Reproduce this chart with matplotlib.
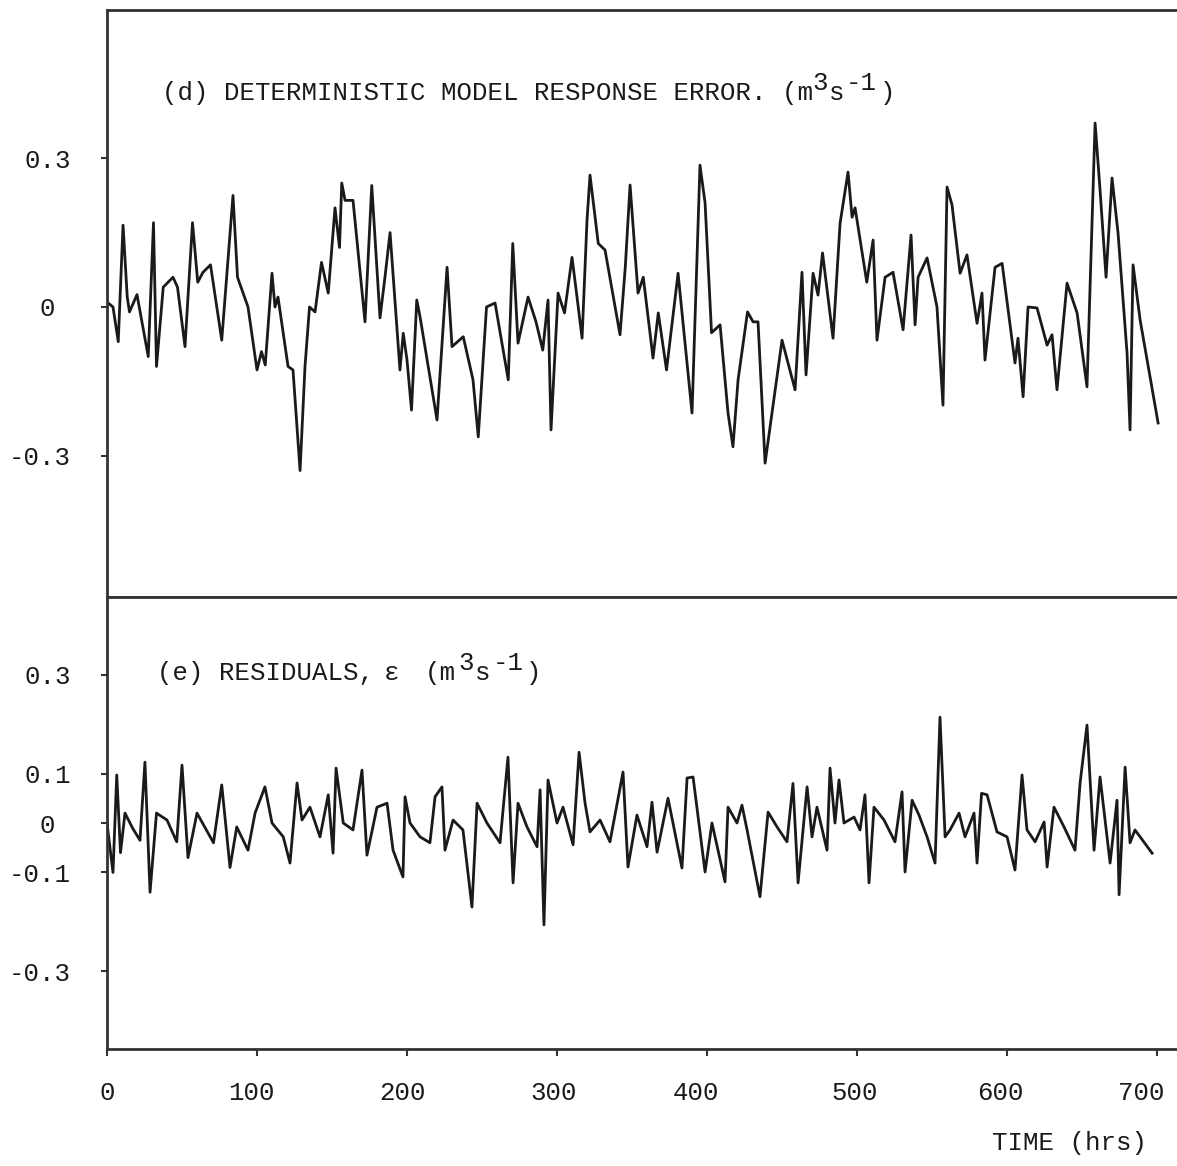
import matplotlib
matplotlib.use("Agg")
import matplotlib.pyplot as plt
import matplotlib.transforms as mtransforms

plt.rcParams['font.family'] = ['Liberation Mono', 'DejaVu Sans Mono']

# (d) deterministic model response error
t_d = [0, 4, 7.5, 10.7, 13.5, 15, 20, 27.5, 31, 33, 37.5, 44, 47, 52, 57, 60.5, 64, 69,
       76.5, 84, 87, 94, 100, 103, 105.5, 110, 112, 114, 120.7, 124, 128.7, 132, 135,
       138.7, 143, 147.5, 152, 155, 156.5, 158.7, 164, 172, 176.5, 182, 185.3, 188.7,
       195.3, 197.5, 200, 203, 206.5, 208.7, 220, 226.7, 230, 237.5, 244, 247.5, 253,
       258.7, 267.5, 270.5, 274, 280.7, 286, 290.5, 294, 296, 300.7, 305, 310, 313,
       316.7, 320, 322, 327.5, 332, 342, 345.5, 348.7, 354, 357.5, 364, 367.5, 373,
       380.7, 390, 395.3, 398.7, 403, 408.7, 414, 417.3, 420.7, 427, 430.7, 434, 438.7,
       450, 458.7, 463.3, 466, 470.7, 474, 477, 484, 488.7, 494, 496.7, 498.7, 506.5,
       510.7, 513.3, 518.7, 524, 530.7, 536, 538.7, 540.7, 546.7, 553.3, 557.3, 560,
       563.3, 568.7, 573.3, 580, 583.3, 585.3, 592, 596.7, 605.3, 607.3, 610.7, 614,
       620, 626.7, 630, 633.3, 640, 646.7, 653.3, 658.7, 662, 666, 670, 674, 680, 682,
       684, 688.7, 700.7]
v_d = [0.01, 0.0, -0.07, 0.165, 0.02, -0.01, 0.025, -0.10, 0.17, -0.12, 0.04, 0.06, 0.04,
       -0.08, 0.17, 0.05, 0.07, 0.085, -0.067, 0.225, 0.06, 0.0, -0.127, -0.09, -0.117,
       0.068, 0.0, 0.02, -0.12, -0.127, -0.33, -0.12, 0.0, -0.01, 0.09, 0.028, 0.2, 0.12,
       0.25, 0.215, 0.215, -0.03, 0.245, -0.022, 0.06, 0.15, -0.127, -0.053, -0.107,
       -0.208, 0.014, -0.02, -0.228, 0.08, -0.08, -0.06, -0.147, -0.262, 0.0, 0.008,
       -0.147, 0.128, -0.073, 0.02, -0.03, -0.087, 0.014, -0.248, 0.028, -0.012, 0.1,
       0.028, -0.063, 0.175, 0.266, 0.128, 0.115, -0.056, 0.08, 0.246, 0.028, 0.06,
       -0.103, -0.012, -0.127, 0.068, -0.214, 0.286, 0.21, -0.052, -0.036, -0.214,
       -0.282, -0.147, -0.01, -0.03, -0.03, -0.315, -0.067, -0.167, 0.07, -0.137, 0.068,
       0.024, 0.109, -0.063, 0.169, 0.272, 0.181, 0.2, 0.05, 0.135, -0.067, 0.06, 0.07,
       -0.046, 0.145, -0.036, 0.06, 0.099, 0.0, -0.198, 0.242, 0.206, 0.068, 0.105,
       -0.033, 0.028, -0.107, 0.08, 0.088, -0.113, -0.063, -0.181, 0.0, -0.002, -0.077,
       -0.056, -0.167, 0.048, -0.012, -0.161, 0.371, 0.236, 0.06, 0.26, 0.149, -0.093,
       -0.248, 0.085, -0.026, -0.234]

# (e) residuals
t_e = [0, 4, 6.5, 9, 12, 17, 22, 25.3, 28.7, 33, 40, 46.5, 50, 54, 60, 71, 76.5, 82,
       86.5, 94, 98.7, 105.3, 110, 117.5, 122, 126.7, 130, 135.3, 142, 147.5, 150.7,
       152.7, 157.5, 164, 170, 173.3, 180, 186.7, 190.7, 197.3, 198.7, 202, 208.7,
       215.3, 218.7, 223.3, 225.3, 230.7, 237.3, 243.3, 246.7, 253.3, 262, 267.3, 270.7,
       274, 280, 286.7, 288.7, 291.3, 294, 300, 304, 310.7, 314.7, 318.7, 322, 328.7,
       335.3, 344, 347.3, 353.3, 360, 363.3, 366.7, 374, 383.3, 386.7, 390.7, 398.7,
       403.3, 412, 414, 420, 423.3, 426.7, 435.3, 440.7, 446.7, 453.3, 457.3, 460.7,
       466.7, 470, 473.3, 480, 482, 485.3, 488, 491.3, 498, 502, 505.3, 508, 511.3, 518,
       525.3, 530, 532, 536.7, 541.3, 546.7, 552, 555.3, 558.7, 562, 568, 572, 578, 580,
       583, 586.7, 593.3, 600, 605.3, 610, 613.3, 618.7, 624.7, 626.7, 631.3, 638,
       645.3, 648.7, 653.3, 658, 662, 668.7, 673.3, 674.7, 678.7, 682, 685.3, 696.7]
v_e = [0.0, -0.1, 0.097, -0.06, 0.02, -0.01, -0.035, 0.123, -0.14, 0.02, 0.006, -0.038,
       0.117, -0.07, 0.02, -0.04, 0.077, -0.09, -0.008, -0.055, 0.02, 0.073, 0.0, -0.028,
       -0.081, 0.081, 0.006, 0.032, -0.028, 0.057, -0.061, 0.111, 0.0, -0.014, 0.107,
       -0.065, 0.032, 0.04, -0.055, -0.109, 0.053, 0.0, -0.028, -0.04, 0.053, 0.073,
       -0.055, 0.006, -0.014, -0.17, 0.04, 0.0, -0.04, 0.133, -0.121, 0.04, -0.008,
       -0.048, 0.067, -0.206, 0.087, 0.0, 0.032, -0.044, 0.143, 0.04, -0.018, 0.006,
       -0.038, 0.103, -0.089, 0.016, -0.048, 0.042, -0.059, 0.05, -0.091, 0.091, 0.093,
       -0.099, 0.0, -0.119, 0.032, 0.0, 0.036, -0.014, -0.149, 0.022, -0.008, -0.038,
       0.08, -0.121, 0.073, -0.028, 0.032, -0.055, 0.111, 0.0, 0.087, 0.0, 0.012, -0.014,
       0.057, -0.121, 0.032, 0.006, -0.038, 0.063, -0.099, 0.046, 0.016, -0.028, -0.081,
       0.214, -0.028, -0.014, 0.02, -0.028, 0.02, -0.081, 0.06, 0.057, -0.018, -0.028,
       -0.095, 0.097, -0.014, -0.038, 0.002, -0.089, 0.032, -0.008, -0.055, 0.081,
       0.198, -0.055, 0.093, -0.081, 0.046, -0.145, 0.113, -0.04, -0.014, -0.061]

yt_d = [0.3, 0, -0.3]
yl_d = ['0.3', '0 ', '-0.3']
yt_e = [0.3, 0.1, 0, -0.1, -0.3]
yl_e = ['0.3', '0.1', '0 ', '-0.1', '-0.3']
xt = [0, 100, 200, 300, 400, 500, 600, 700]

ink = '#1a1a1a'
fs = 18.5
cw = 0.6 * fs          # monospace advance, points
rise = 7.5             # typewriter half-line, points

fig = plt.figure(figsize=(11.77, 11.66), dpi=100)
ax1 = fig.add_axes([0.0909, 0.48799, 0.9091, 0.50343])
ax2 = fig.add_axes([0.0909, 0.10034, 0.9091, 0.38765])

ax1.plot(t_d, v_d, color=ink, lw=2.0)
ax2.plot(t_e, v_e, color=ink, lw=2.0)

for ax in (ax1, ax2):
    ax.set_xlim(0, 713.3)
    ax.spines['right'].set_visible(False)
    for s in ('left', 'top', 'bottom'):
        ax.spines[s].set_linewidth(2.0)
        ax.spines[s].set_color('#333333')
    ax.tick_params(axis='y', direction='out', length=4, width=1.5, color='#333333',
                   pad=22, labelsize=fs, labelcolor=ink)

ax1.set_ylim(-0.585, 0.599)
ax1.set_yticks(yt_d)
ax1.set_yticklabels(yl_d)
ax1.set_xticks([])

ax2.set_ylim(-0.457, 0.457)
ax2.set_yticks(yt_e)
ax2.set_yticklabels(yl_e)
ax2.set_xticks(xt)
ax2.set_xticklabels([str(x) for x in xt])
ax2.tick_params(axis='x', direction='out', length=5, width=1.5, color='#333333',
                pad=18, labelsize=fs, labelcolor=ink)
# the typed numbers sit a little left of their ticks (pixels)
nudge = [0, -6, -5, -3, -11, -2, -7, -16]
for lab, dx in zip(ax2.get_xticklabels(), nudge):
    lab.set_transform(lab.get_transform() +
                      mtransforms.ScaledTranslation(dx / fig.dpi, 0, fig.dpi_scale_trans))


def typed(ax, x, y, pieces):
    # pieces: (column, raised?, text) on a monospaced line
    for col, up, s in pieces:
        tr = mtransforms.offset_copy(ax.transData, fig=fig, x=col * cw,
                                     y=rise if up else 0, units='points')
        ax.text(x, y, s, transform=tr, fontsize=fs, color=ink,
                ha='left', va='baseline')


typed(ax1, 37, 0.417, [(0, False, '(d) DETERMINISTIC MODEL RESPONSE ERROR. (m'),
                       (42.15, True, '3'), (43.25, False, 's'),
                       (44.35, True, '-1'), (46.5, False, ')')])
typed(ax2, 33.3, 0.289, [(0, False, '(e) RESIDUALS,'), (14.7, False, 'ε'),
                         (17.4, False, '(m'), (19.55, True, '3'), (20.65, False, 's'),
                         (21.75, True, '-1'), (23.9, False, ')')])

fig.text(992 / 1177, 1 - 1150 / 1166, 'TIME (hrs)', fontsize=fs, color=ink,
         ha='left', va='baseline')

fig.savefig('out.png', dpi=100)
